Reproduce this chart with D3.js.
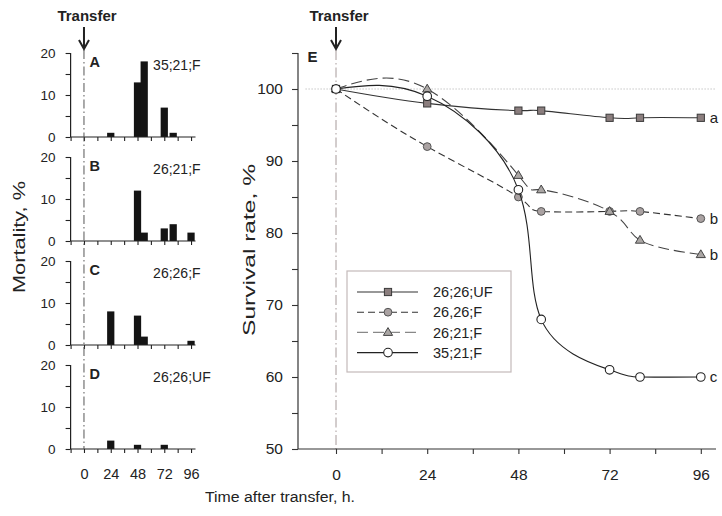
<!DOCTYPE html>
<html><head><meta charset="utf-8">
<script src="https://cdn.jsdelivr.net/npm/d3@7"></script>
<style>
html,body{margin:0;padding:0;background:#fff;}
svg{display:block;font-family:"Liberation Sans",Arial,sans-serif;}
</style></head>
<body><svg id="c" width="722" height="516"></svg>
<script>
// ---------- data ----------
const panelIds = ["A","B","C","D"];
const panelLabels = ["35;21;F","26;21;F","26;26;F","26;26;UF"];
const barTimes = [[24,48,54,72,80],[48,54,72,80,96],[24,48,54,96],[24,48,72]];
const barValues = [[1,13,18,7,1],[12,2,3,4,2],[8,7,2,1],[2,1,1]];
const mortTicks = [0,10,20];
const timeTicks = [0,24,48,72,96];

const times = [0,24,48,54,72,80,96];
const seriesNames = ["26;26;UF","26,26;F","26;21;F","35;21;F"];
const s_UF   = [100,98,97,97,96,96,96];
const s_2626 = [100,92,85,83,83,83,82];
const s_2621 = [100,100,88,86,83,79,77];
const s_3521 = [100,99,86,68,61,60,60];
const sigLetters = ["a","b","b","c"];
const survTicks = [50,60,70,80,90,100];

// ---------- setup ----------
const svg = d3.select("#c");
const ink = "#222";

// ---------- left panels ----------
const xL = d3.scaleLinear().domain([-12,100]).range([70.6,195.5]);
const panelBase = [137,241,345,449];
const panelH = 84;
const barW = xL(6.5) - xL(0);

panelIds.forEach((id,i)=>{
  const base = panelBase[i];
  const y = d3.scaleLinear().domain([0,20]).range([base, base-panelH]);
  const g = svg.append("g");
  g.selectAll("rect").data(barTimes[i].map((t,j)=>({t, v:barValues[i][j]})))
    .enter().append("rect")
    .attr("x", d=>xL(d.t)-barW/2).attr("width", barW)
    .attr("y", d=>y(d.v)).attr("height", d=>y(0)-y(d.v))
    .attr("fill","#141414");
  const ya = d3.axisLeft(y).tickValues([0,5,10,15,20]).tickSize(5).tickFormat(d=>mortTicks.includes(d)?d:"").tickPadding(10);
  const yg = g.append("g").attr("transform",`translate(${xL(-12)},0)`).call(ya);
  yg.select(".domain").attr("d",`M0,${y(0)}V${y(20)}`).attr("stroke",ink).attr("stroke-width",1.2);
  yg.selectAll(".tick line").attr("stroke",ink).attr("stroke-width",1.1);
  yg.selectAll(".tick text").attr("font-size",13.5).attr("fill",ink).attr("font-family","Liberation Sans, Arial, sans-serif");
  const xa = d3.axisBottom(xL).tickValues(d3.range(-12,97,12)).tickSize(4).tickFormat(d=> (i===3 && timeTicks.includes(d)) ? d : "").tickPadding(16);
  const xg = g.append("g").attr("transform",`translate(0,${base})`).call(xa);
  xg.select(".domain").attr("d",`M${xL(-12)},0H${xL(100)}`).attr("stroke",ink).attr("stroke-width",1.2);
  xg.selectAll(".tick line").attr("stroke",ink).attr("stroke-width",1.1);
  xg.selectAll(".tick text").attr("font-size",14.5).attr("fill",ink).attr("font-family","Liberation Sans, Arial, sans-serif");
  g.append("text").attr("x",xL(5)).attr("y",base-panelH+14).attr("font-weight","bold").attr("font-size",14.5).attr("fill",ink).text(id);
  g.append("text").attr("x",xL(62)).attr("y",base-panelH+17).attr("font-size",14).attr("fill",ink).text(panelLabels[i]);
});
svg.append("line").attr("x1",xL(0)).attr("x2",xL(0)).attr("y1",50).attr("y2",panelBase[3])
  .attr("stroke","#555").attr("stroke-width",1).attr("stroke-dasharray","9,3,1.5,3");

function transfer(x){
  svg.append("text").attr("x",x+3).attr("y",21).attr("text-anchor","middle").attr("font-weight","bold").attr("font-size",15).attr("fill",ink).text("Transfer");
  svg.append("path").attr("d",`M${x},27V49M${x-5},40L${x},49L${x+5},40`).attr("stroke",ink).attr("stroke-width",2).attr("fill","none");
}
transfer(xL(0));

svg.append("text").attr("transform","translate(25,237) rotate(-90)").attr("text-anchor","middle")
  .attr("font-size",16).attr("fill",ink).attr("textLength",112).attr("lengthAdjust","spacingAndGlyphs").text("Mortality, %");
svg.append("text").attr("x",205).attr("y",502).attr("font-size",15.5).attr("fill",ink)
  .attr("textLength",150).attr("lengthAdjust","spacingAndGlyphs").text("Time after transfer, h.");

// ---------- right chart ----------
const xR = d3.scaleLinear().domain([-10,100]).range([298,716]);
const yR = d3.scaleLinear().domain([50,105]).range([449,53]);

svg.append("line").attr("x1",xR(-8)).attr("x2",xR(100)).attr("y1",yR(100)).attr("y2",yR(100))
  .attr("stroke","#aaa").attr("stroke-width",1).attr("stroke-dasharray","1,2");
svg.append("line").attr("x1",xR(0)).attr("x2",xR(0)).attr("y1",50).attr("y2",yR(50))
  .attr("stroke","#a69a9a").attr("stroke-width",1).attr("stroke-dasharray","10,3,1.5,3");
transfer(xR(0));

const yaR = d3.axisLeft(yR).tickValues(d3.range(50,106,5)).tickSize(6).tickPadding(9).tickFormat(d=>survTicks.includes(d)?d:"");
const ygR = svg.append("g").attr("transform",`translate(${xR(-10)},0)`).call(yaR);
ygR.select(".domain").attr("d",`M0,${yR(50)}V${yR(105)}`).attr("stroke","#333").attr("stroke-width",1.2);
ygR.selectAll(".tick line").attr("stroke","#333").attr("stroke-width",1.1);
ygR.selectAll(".tick text").attr("font-size",15.5).attr("fill",ink).attr("font-family","Liberation Sans, Arial, sans-serif");

const xaR = d3.axisBottom(xR).tickValues(d3.range(0,97,12)).tickSize(5).tickPadding(15).tickFormat(d=>timeTicks.includes(d)?d:"");
const xgR = svg.append("g").attr("transform",`translate(0,${yR(50)})`).call(xaR);
xgR.select(".domain").attr("d",`M${xR(-10)},0H${xR(100)}`).attr("stroke","#333").attr("stroke-width",1.2);
xgR.selectAll(".tick line").attr("stroke","#333").attr("stroke-width",1.1);
xgR.selectAll(".tick text").attr("font-size",15.5).attr("fill",ink).attr("font-family","Liberation Sans, Arial, sans-serif");

svg.append("text").attr("x",xR(-7.5)).attr("y",yR(103.8)).attr("font-weight","bold").attr("font-size",15).attr("fill",ink).text("E");

svg.append("text").attr("transform","translate(255,250) rotate(-90)").attr("text-anchor","middle")
  .attr("font-size",17).attr("fill",ink).attr("textLength",172).attr("lengthAdjust","spacingAndGlyphs").text("Survival rate, %");

const styles = [
  {vals:s_UF,   dash:null,   stroke:"#333", marker:"square",  fill:"#8b7e7e"},
  {vals:s_2626, dash:"7,4",  stroke:"#333", marker:"circle",  fill:"#aaa2a2"},
  {vals:s_2621, dash:"11,5", stroke:"#444", marker:"triangle",fill:"#aaa6a4"},
  {vals:s_3521, dash:null,   stroke:"#222", marker:"open",    fill:"#fff"}
];
const line = d3.line().x(d=>xR(d.t)).y(d=>yR(d.v)).curve(d3.curveNatural);

function drawMarker(g, type, x, y, fill){
  if(type==="square"){
    g.append("rect").attr("x",x-3.6).attr("y",y-3.6).attr("width",7.2).attr("height",7.2).attr("fill",fill).attr("stroke","#3a3a3a").attr("stroke-width",1);
  } else if(type==="triangle"){
    g.append("path").attr("d",`M${x},${y-4.8}L${x+4.6},${y+3}L${x-4.6},${y+3}Z`).attr("fill",fill).attr("stroke","#444").attr("stroke-width",1);
  } else if(type==="circle"){
    g.append("circle").attr("cx",x).attr("cy",y).attr("r",3.9).attr("fill",fill).attr("stroke","#555").attr("stroke-width",1);
  } else {
    g.append("circle").attr("cx",x).attr("cy",y).attr("r",4.3).attr("fill",fill).attr("stroke","#222").attr("stroke-width",1.1);
  }
}

styles.forEach((s,i)=>{
  const pts = times.map((t,j)=>({t, v:s.vals[j]}));
  const g = svg.append("g");
  g.append("path").attr("d",line(pts)).attr("fill","none").attr("stroke",s.stroke).attr("stroke-width",1.1)
    .attr("stroke-dasharray",s.dash);
  pts.forEach(p=>drawMarker(g, s.marker, xR(p.t), yR(p.v), s.fill));
  g.append("text").attr("x",xR(96)+9).attr("y",yR(s.vals[s.vals.length-1])).attr("dy","0.35em")
    .attr("font-size",15).attr("fill",ink).text(sigLetters[i]);
});

const lg = svg.append("g").attr("transform","translate(347,271)");
lg.append("rect").attr("x",0).attr("y",0).attr("width",164).attr("height",101).attr("fill","#fff").attr("stroke","#c4baba").attr("stroke-width",1.2);
styles.forEach((s,i)=>{
  const yy = 21 + i*20.2;
  lg.append("line").attr("x1",10).attr("x2",71).attr("y1",yy).attr("y2",yy).attr("stroke", i===2?"#888":s.stroke).attr("stroke-width",1.1).attr("stroke-dasharray", s.dash);
  drawMarker(lg, s.marker, 41, yy, s.fill);
  lg.append("text").attr("x",86).attr("y",yy).attr("dy","0.36em").attr("font-size",14.5).attr("fill",ink).text(seriesNames[i]);
});
</script></body></html>
